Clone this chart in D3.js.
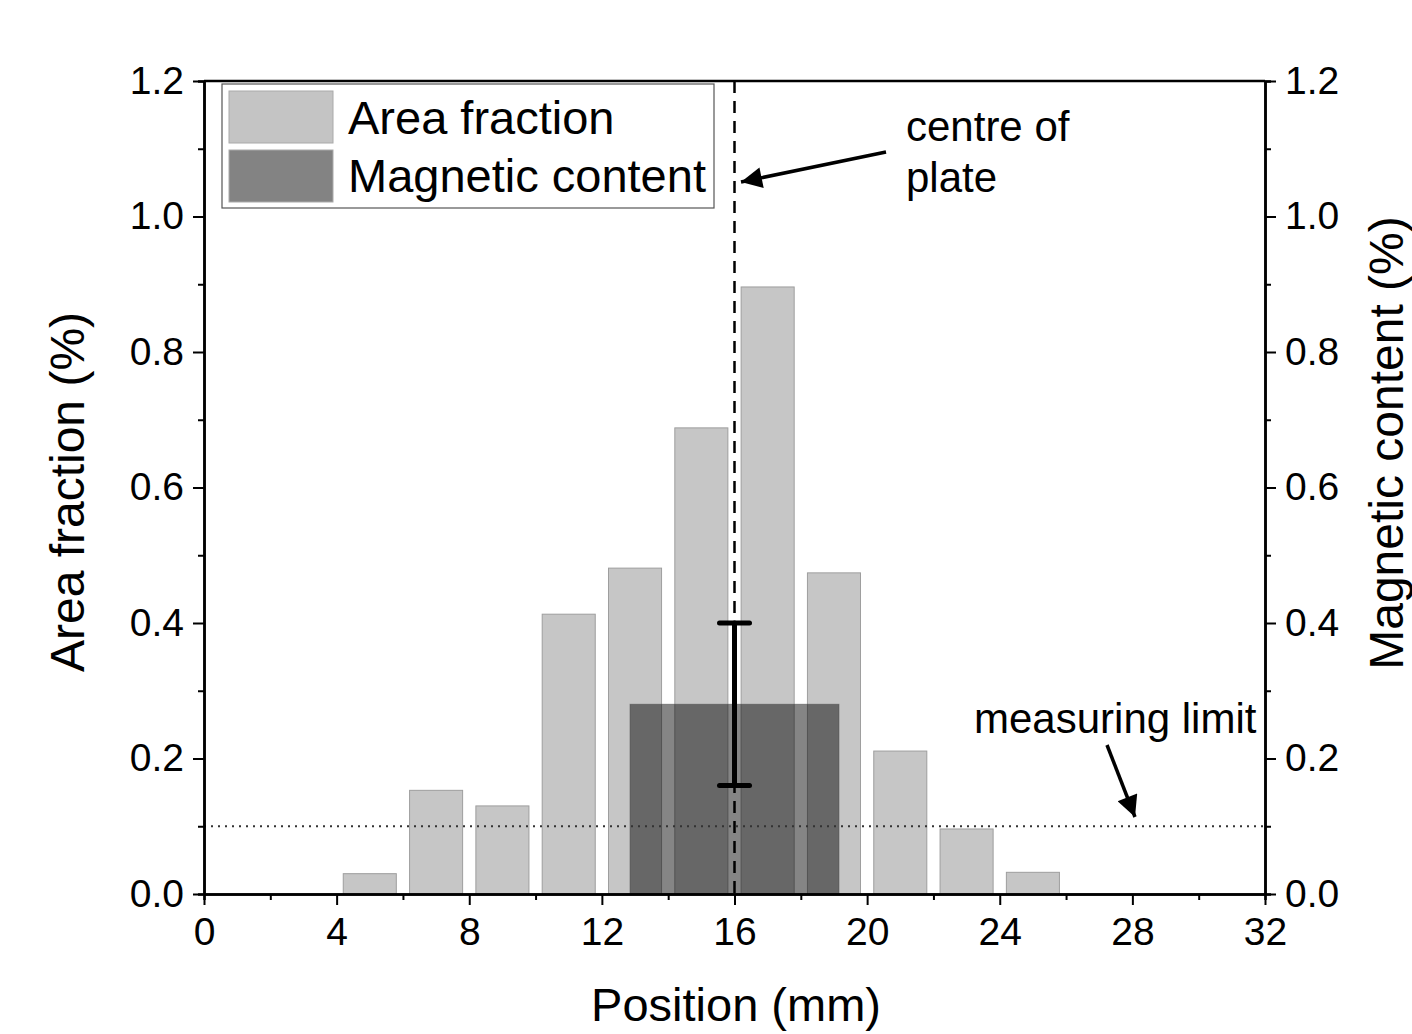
<!DOCTYPE html>
<html>
<head>
<meta charset="utf-8">
<script src="https://cdn.jsdelivr.net/npm/d3@7"></script>
<style>
  body { margin: 0; background: #fff; overflow: hidden; }
  text { font-family: "Liberation Sans", Arial, sans-serif; }
</style>
</head>
<body>
<div id="chart"></div>
<script>
// data
var positions = [5, 7, 9, 11, 13, 15, 17, 19, 21, 23, 25];
var areaFraction = [0.03, 0.153, 0.13, 0.413, 0.481, 0.688, 0.896, 0.474, 0.211, 0.096, 0.032];
var magPosition = [16];
var magContent = [0.28];
var magError = [0.12];
var measuringLimit = 0.1;
var centrePosition = 16;
var xTicks = [0, 4, 8, 12, 16, 20, 24, 28, 32];
var yTicks = [0, 0.2, 0.4, 0.6, 0.8, 1.0, 1.2];

var svgWidth = 1412;
var svgHeight = 1034;
var margin = { top: 81, right: 147, bottom: 140, left: 204 };
var width = svgWidth - margin.left - margin.right;
var height = svgHeight - margin.top - margin.bottom;

var svg = d3.select("#chart")
  .append("svg")
  .attr("width", svgWidth)
  .attr("height", svgHeight);

var defs = svg.append("defs");
defs.append("marker")
  .attr("id", "arrow")
  .attr("viewBox", "0 0 10 10")
  .attr("refX", 10)
  .attr("refY", 5)
  .attr("markerWidth", 9)
  .attr("markerHeight", 6)
  .attr("markerUnits", "strokeWidth")
  .attr("orient", "auto")
  .append("path")
  .attr("d", "M0,0 L10,5 L0,10 Z")
  .attr("fill", "#000");

var chartGroup = svg.append("g")
  .attr("transform", `translate(${margin.left}, ${margin.top})`);

var x = d3.scaleLinear().domain([0, 32]).range([0, width]);
var yLeft = d3.scaleLinear().domain([0, 1.2]).range([height, 0]);
var yRight = d3.scaleLinear().domain([0, 1.2]).range([height, 0]);

// area fraction bars
var barW = 1.6;
chartGroup.selectAll(".area-bar")
  .data(positions)
  .enter()
  .append("rect")
  .attr("class", "area-bar")
  .attr("x", (d) => x(d - barW / 2))
  .attr("width", x(barW) - x(0))
  .attr("y", (d, i) => yLeft(areaFraction[i]))
  .attr("height", (d, i) => height - yLeft(areaFraction[i]))
  .attr("fill", "#c6c6c6")
  .attr("stroke", "#9e9e9e")
  .attr("stroke-width", 1);

// magnetic content bar (semi transparent)
var magW = 6.3;
chartGroup.selectAll(".mag-bar")
  .data(magPosition)
  .enter()
  .append("rect")
  .attr("class", "mag-bar")
  .attr("x", (d) => x(d - magW / 2))
  .attr("width", x(magW) - x(0))
  .attr("y", (d, i) => yRight(magContent[i]))
  .attr("height", (d, i) => height - yRight(magContent[i]))
  .attr("fill", "#000")
  .attr("fill-opacity", 0.48)
  .attr("stroke", "#444")
  .attr("stroke-opacity", 0.5)
  .attr("stroke-width", 1);

// measuring limit line
chartGroup.append("line")
  .attr("x1", x(0)).attr("x2", x(32))
  .attr("y1", yLeft(measuringLimit)).attr("y2", yLeft(measuringLimit))
  .attr("stroke", "#333")
  .attr("stroke-width", 2)
  .attr("stroke-dasharray", "2,5");

// centre dashed line
chartGroup.append("line")
  .attr("x1", x(centrePosition)).attr("x2", x(centrePosition))
  .attr("y1", 0).attr("y2", height)
  .attr("stroke", "#000")
  .attr("stroke-width", 2.5)
  .attr("stroke-dasharray", "12,8");

// error bar
magPosition.forEach(function(p, i) {
  var lo = yRight(magContent[i] - magError[i]);
  var hi = yRight(magContent[i] + magError[i]);
  var g = chartGroup.append("g")
    .attr("stroke", "#000")
    .attr("stroke-width", 5)
    .attr("stroke-linecap", "round");
  g.append("line").attr("x1", x(p)).attr("x2", x(p)).attr("y1", lo).attr("y2", hi);
  g.append("line").attr("x1", x(p) - 15).attr("x2", x(p) + 15).attr("y1", lo).attr("y2", lo);
  g.append("line").attr("x1", x(p) - 15).attr("x2", x(p) + 15).attr("y1", hi).attr("y2", hi);
});

// axes
function styleAxis(g) {
  g.selectAll("path").attr("stroke", "#000").attr("stroke-width", 2.5);
  g.selectAll("line").attr("stroke", "#000").attr("stroke-width", 2);
  g.selectAll("text").attr("font-size", "39px").attr("fill", "#000")
    .attr("font-family", "'Liberation Sans', Arial, sans-serif");
}

var fmt = d3.format(".1f");
var xMinor = d3.range(2, 32, 4);
var yMinor = d3.range(0.1, 1.2, 0.2);

chartGroup.append("g")
  .attr("transform", `translate(0, ${height})`)
  .call(d3.axisBottom(x).tickValues(xMinor).tickSize(6).tickFormat(""))
  .call(styleAxis);
chartGroup.append("g")
  .attr("transform", `translate(0, ${height})`)
  .call(d3.axisBottom(x).tickValues(xTicks).tickSize(11).tickPadding(12).tickSizeOuter(0))
  .call(styleAxis);

chartGroup.append("g")
  .call(d3.axisLeft(yLeft).tickValues(yMinor).tickSize(6).tickFormat(""))
  .call(styleAxis);
chartGroup.append("g")
  .call(d3.axisLeft(yLeft).tickValues(yTicks).tickFormat(fmt).tickSize(11).tickPadding(9).tickSizeOuter(0))
  .call(styleAxis);

chartGroup.append("g")
  .attr("transform", `translate(${width}, 0)`)
  .call(d3.axisRight(yRight).tickValues(yMinor).tickSize(6).tickFormat(""))
  .call(styleAxis);
chartGroup.append("g")
  .attr("transform", `translate(${width}, 0)`)
  .call(d3.axisRight(yRight).tickValues(yTicks).tickFormat(fmt).tickSize(11).tickPadding(9).tickSizeOuter(0))
  .call(styleAxis);

// top border
chartGroup.append("line")
  .attr("x1", 0).attr("x2", width).attr("y1", 0).attr("y2", 0)
  .attr("stroke", "#000").attr("stroke-width", 2.5);

// axis titles
svg.append("text")
  .attr("x", 736)
  .attr("y", 1021)
  .attr("text-anchor", "middle")
  .attr("font-size", "47px")
  .text("Position (mm)");

svg.append("text")
  .attr("transform", "translate(84, 492) rotate(-90)")
  .attr("text-anchor", "middle")
  .attr("font-size", "48px")
  .text("Area fraction (%)");

svg.append("text")
  .attr("transform", "translate(1403, 443) rotate(-90)")
  .attr("text-anchor", "middle")
  .attr("font-size", "48px")
  .text("Magnetic content (%)");

// legend
var legend = svg.append("g").attr("transform", "translate(222, 84)");
legend.append("rect")
  .attr("width", 492).attr("height", 124)
  .attr("fill", "#fff").attr("stroke", "#555").attr("stroke-width", 1.2);
var legendItems = [
  { label: "Area fraction", fill: "#c4c4c4" },
  { label: "Magnetic content", fill: "#838383" }
];
legendItems.forEach(function(item, i) {
  legend.append("rect")
    .attr("x", 7).attr("y", 7 + i * 59)
    .attr("width", 104).attr("height", 52)
    .attr("fill", item.fill)
    .attr("stroke", "#aaa").attr("stroke-width", 1);
  legend.append("text")
    .attr("x", 126).attr("y", 50 + i * 58)
    .attr("font-size", "47px")
    .text(item.label);
});

// annotations
svg.append("text").attr("x", 906).attr("y", 141).attr("font-size", "42px").text("centre of");
svg.append("text").attr("x", 906).attr("y", 192).attr("font-size", "42px").text("plate");
svg.append("line")
  .attr("x1", 886).attr("y1", 152).attr("x2", 741).attr("y2", 182)
  .attr("stroke", "#000").attr("stroke-width", 3.5)
  .attr("marker-end", "url(#arrow)");

svg.append("text").attr("x", 974).attr("y", 733).attr("font-size", "42px").text("measuring limit");
svg.append("line")
  .attr("x1", 1107).attr("y1", 745).attr("x2", 1135).attr("y2", 817)
  .attr("stroke", "#000").attr("stroke-width", 3.5)
  .attr("marker-end", "url(#arrow)");
</script>
</body>
</html>
